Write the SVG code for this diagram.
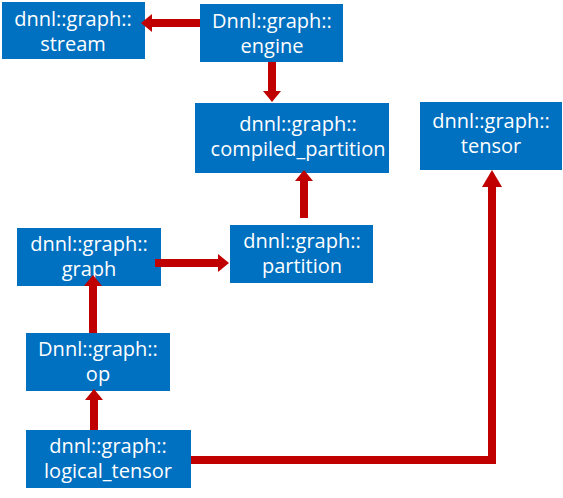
<svg xmlns="http://www.w3.org/2000/svg" width="563" height="498" viewBox="0 0 563 498">
<style>
.box{fill:#0070C0}
.lbl{font-family:"Open Sans","Noto Sans",sans-serif;font-size:20px;fill:#ffffff;text-anchor:middle}
.con{fill:none;stroke:#C00000;stroke-width:8;stroke-linejoin:miter}
</style>
<defs>
<marker id="ah" markerUnits="userSpaceOnUse" markerWidth="12" markerHeight="18" refX="0" refY="9" orient="auto" viewBox="0 0 12 18">
<path d="M0,0 L11,9 L0,18 z" fill="#C00000"/>
</marker>
<marker id="ahL" markerUnits="userSpaceOnUse" markerWidth="18" markerHeight="20" refX="0" refY="10" orient="auto" viewBox="0 0 18 20">
<path d="M0,0 L17,10 L0,20 z" fill="#C00000"/>
</marker>
</defs>
<rect width="563" height="498" fill="#ffffff"/>
<g id="stream"><rect class="box" x="2" y="2" width="143" height="57"/><text class="lbl" x="73" y="26">dnnl::graph::<tspan x="73" y="51">stream</tspan></text></g>
<g id="engine"><rect class="box" x="200" y="4" width="143" height="58"/><text class="lbl" x="272" y="28">Dnnl::graph::<tspan x="272" y="53">engine</tspan></text></g>
<g id="compiled_partition"><rect class="box" x="195" y="103" width="194" height="70"/><text class="lbl" x="298" y="131">dnnl::graph::<tspan x="298" y="156">compiled_partition</tspan></text></g>
<g id="tensor"><rect class="box" x="420" y="102" width="142" height="68"/><text class="lbl" x="491" y="128">dnnl::graph::<tspan x="491" y="153">tensor</tspan></text></g>
<g id="graph"><rect class="box" x="17" y="228" width="144" height="58"/><text class="lbl" x="89" y="251">dnnl::graph::<tspan x="89" y="276">graph</tspan></text></g>
<g id="partition"><rect class="box" x="230" y="225" width="143" height="58"/><text class="lbl" x="302" y="248">dnnl::graph::<tspan x="302" y="273">partition</tspan></text></g>
<g id="op"><rect class="box" x="26" y="333" width="144" height="58"/><text class="lbl" x="98" y="356">Dnnl::graph::<tspan x="98" y="381">op</tspan></text></g>
<g id="logical_tensor"><rect class="box" x="26" y="430" width="165" height="58"/><text class="lbl" x="108" y="453">dnnl::graph::<tspan x="108" y="478">logical_tensor</tspan></text></g>
<g id="connectors">
<path class="con" d="M200,23 H152" marker-end="url(#ah)"/>
<path class="con" d="M272,62 V91" marker-end="url(#ah)"/>
<path class="con" d="M304,218 V181" marker-end="url(#ah)"/>
<path class="con" d="M155,263 H218" marker-end="url(#ah)"/>
<path class="con" d="M93,333 V286" marker-end="url(#ah)"/>
<path class="con" d="M94,430 V400" marker-end="url(#ah)"/>
<path class="con" d="M191,460 H492 V187" marker-end="url(#ahL)"/>
</g>
</svg>
